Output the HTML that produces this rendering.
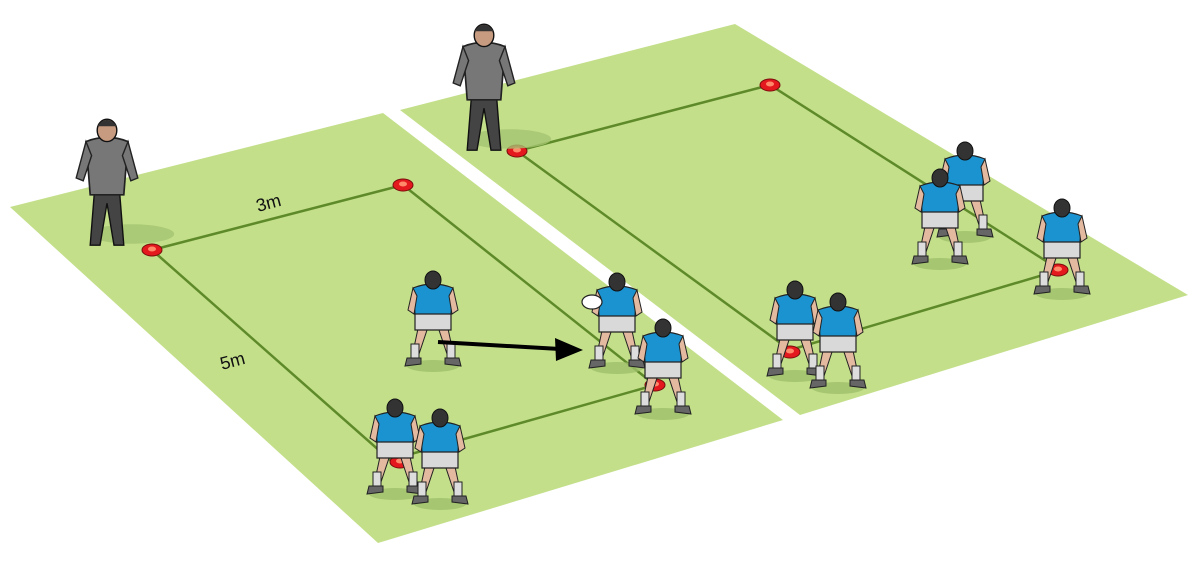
<!DOCTYPE html>
<html><head><meta charset="utf-8"><style>
html,body{margin:0;padding:0;background:#fff;}
svg{display:block}
text{font-family:"Liberation Sans",sans-serif;font-size:18px;fill:#111}
</style></head><body>
<svg width="1201" height="567" viewBox="0 0 1201 567" xmlns="http://www.w3.org/2000/svg">
<defs>
<g id="pl">
  <ellipse cx="0" cy="92" rx="26" ry="6" fill="#9fbf6a" opacity="0.8"/>
  <path d="M-14,50 L-20,78 L-14,80 L-6,56 Z" fill="#e3b9a0" stroke="#222" stroke-width="1"/>
  <path d="M14,50 L20,78 L14,80 L6,56 Z" fill="#e3b9a0" stroke="#222" stroke-width="1"/>
  <rect x="-22" y="70" width="8" height="16" fill="#ddd" stroke="#222" stroke-width="1"/>
  <rect x="14" y="70" width="8" height="16" fill="#ddd" stroke="#222" stroke-width="1"/>
  <path d="M-26,84 L-12,84 L-12,90 L-28,92 Z" fill="#666" stroke="#222" stroke-width="1"/>
  <path d="M12,84 L26,84 L28,92 L12,90 Z" fill="#666" stroke="#222" stroke-width="1"/>
  <path d="M-18,36 L18,36 L18,56 L-18,56 Z" fill="#d9d9d9" stroke="#222" stroke-width="1.2"/>
  <path d="M-20,14 Q0,6 20,14 L18,40 L-18,40 Z" fill="#1b93d1" stroke="#222" stroke-width="1.2"/>
  <path d="M-20,14 L-25,36 L-19,40 L-16,22 Z" fill="#e3b9a0" stroke="#222" stroke-width="1"/>
  <path d="M20,14 L25,36 L19,40 L16,22 Z" fill="#e3b9a0" stroke="#222" stroke-width="1"/>
  <ellipse cx="0" cy="6" rx="8" ry="9" fill="#333" stroke="#111" stroke-width="1"/>
</g>
<g id="ref">
  <ellipse cx="18" cy="80" rx="30" ry="7" fill="#a5c472" opacity="0.8"/>
  <path d="M-9,50 L-12,88 L-5,88 L0,58 L5,88 L12,88 L9,50 Z" fill="#444" stroke="#111" stroke-width="1"/>
  <path d="M-15,14 Q0,8 15,14 L12,52 L-12,52 Z" fill="#777" stroke="#222" stroke-width="1.2"/>
  <path d="M-15,14 L-22,40 L-17,42 L-11,24 Z" fill="#777" stroke="#222" stroke-width="1"/>
  <path d="M15,14 L22,40 L17,42 L11,24 Z" fill="#777" stroke="#222" stroke-width="1"/>
  <ellipse cx="0" cy="6" rx="7" ry="8" fill="#c79b80" stroke="#111" stroke-width="1"/>
  <path d="M-7,3 Q0,-6 7,3 Z" fill="#333"/>
</g>
<g id="cone">
  <ellipse cx="0" cy="0" rx="10" ry="6" fill="#e3191e" stroke="#7a0c0c" stroke-width="1"/>
  <ellipse cx="0" cy="-1" rx="4" ry="2.5" fill="#ff8a6a"/>
</g>
</defs>
<polygon points="10,207 383,113 783,420 378,543" fill="#c3df8a"/>
<polygon points="400,110 735,24 1188,295 800,415" fill="#c3df8a"/>
<g stroke="#5e8a2a" stroke-width="2.5" fill="none">
  <polyline points="152,250 403,185 655,385 390,460 152,250"/>
  <polyline points="517,151 770,85 1060,270 790,350 517,151"/>
</g>
<text transform="translate(258,212) rotate(-15)">3m</text>
<text transform="translate(222,370) rotate(-15)">5m</text>
<use href="#cone" x="152" y="250"/>
<use href="#cone" x="403" y="185"/>
<use href="#cone" x="517" y="151"/>
<use href="#cone" x="770" y="85"/>
<use href="#cone" x="400" y="462"/>
<use href="#cone" x="655" y="385"/>
<use href="#cone" x="790" y="352"/>
<use href="#cone" x="1058" y="270"/>
<use href="#ref" transform="translate(107,122) scale(1.4)"/>
<use href="#ref" transform="translate(484,27) scale(1.4)"/>
<use href="#pl" x="433" y="274"/>
<use href="#pl" x="617" y="276"/>
<use href="#pl" x="663" y="322"/>
<use href="#pl" x="395" y="402"/>
<use href="#pl" x="440" y="412"/>
<use href="#pl" x="795" y="284"/>
<use href="#pl" x="838" y="296"/>
<use href="#pl" x="1062" y="202"/>
<use href="#pl" x="965" y="145"/>
<use href="#pl" x="940" y="172"/>
<ellipse cx="592" cy="302" rx="10" ry="7" fill="#fff" stroke="#222" stroke-width="1.2"/>
<line x1="438" y1="342" x2="560" y2="349" stroke="#000" stroke-width="4"/>
<polygon points="583,350 555,338 556,361" fill="#000"/>
</svg>
</body></html>
